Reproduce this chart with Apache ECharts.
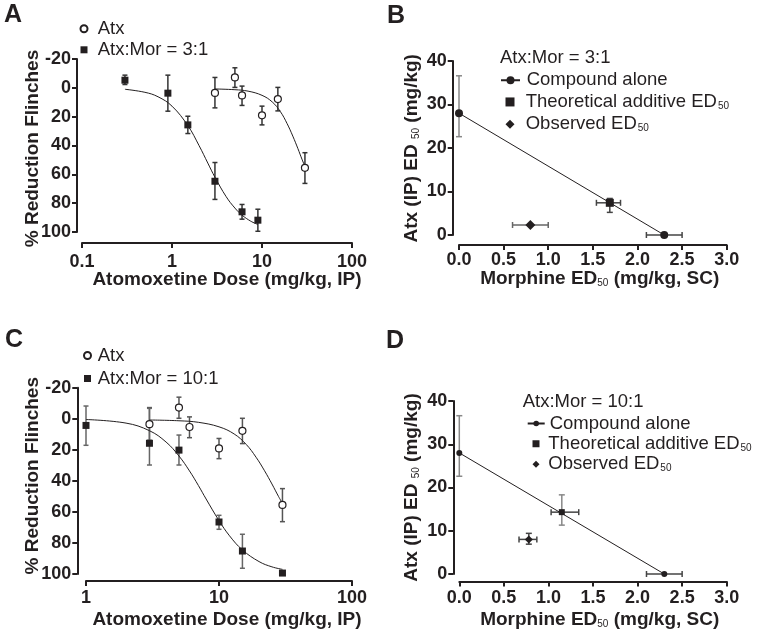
<!DOCTYPE html>
<html><head><meta charset="utf-8">
<script src="https://cdn.jsdelivr.net/npm/echarts@6/dist/echarts.min.js"></script>
<style>html,body{margin:0;padding:0;background:#fff}#c{width:759px;height:635px}</style>
</head><body><div id="c"></div>
<script>
// ================= DATA =================
// Panels A and C: atomoxetine alone (same group in both panels)
const atxDose = [3, 5, 6, 10, 15, 30];
const atxMean = [3.5, -7.2, 5.3, 19.1, 7.8, 55.5];
const atxLow  = [-7.2, -13.9, -1.2, 12.7, -0.3, 45.0];
const atxHigh = [13.9, -0.3, 12.2, 25.7, 16.0, 66.3];
const atxFitDose = [3, 5, 7, 10, 13, 16, 19, 22, 25, 28, 30];
const atxFitVal  = [0.8, 1.3, 2.3, 5.2, 9.8, 16.5, 24.8, 33.5, 42.0, 50.0, 54.5];

// Panel A: Atx:Mor = 3:1
const mix3Dose = [0.3, 0.9, 1.5, 3, 6, 9];
const mix3Mean = [-5.3, 3.7, 25.7, 64.8, 86.0, 91.8];
const mix3Low  = [-8.8, -8.8, 19.7, 51.8, 80.9, 84.2];
const mix3High = [-2.3, 16.2, 31.7, 77.4, 91.1, 99.5];
const mix3FitDose = [0.3, 0.5, 0.7, 1, 1.5, 2, 2.5, 3, 4, 5, 6, 7.5, 9];
const mix3FitVal  = [1.0, 3.1, 6.2, 12.7, 26.2, 40.1, 52.2, 62.0, 75.5, 83.4, 88.3, 92.5, 94.8];

// Panel C: Atx:Mor = 10:1
const mix10Dose = [1, 3, 5, 10, 15, 30];
const mix10Mean = [4.3, 15.8, 20.2, 66.5, 85.2, 99.4];
const mix10Low  = [-8.2, -6.7, 10.5, 62.2, 74.4, null];
const mix10High = [17.1, 29.8, 29.8, 71.2, 96.3, null];
const mix10FitDose = [1, 2, 3, 4, 5, 6, 7, 8, 10, 12, 15, 20, 25, 30];
const mix10FitVal  = [0.5, 2.8, 7.7, 15.0, 24.0, 33.6, 43.0, 51.7, 65.6, 75.4, 84.5, 92.0, 95.4, 97.0];

// Panels B and D: isobolograms (x = morphine ED50, y = atomoxetine ED50)
const aloneMor = [0, 2.3];
const aloneAtx = [28, 0];
const aloneAtxErr = [22.6, 36.6];   // y error of Atx-alone point
const aloneMorErr = [2.1, 2.5];     // x error of morphine-alone point

const theo3Point = [1.69, 7.4];
const theo3XErr  = [1.54, 1.81];
const theo3YErr  = [5.2, 8.4];
const obs3Point  = [0.80, 2.3];
const obs3XErr   = [0.60, 1.00];

const theo10Point = [1.15, 14.3];
const theo10XErr  = [1.03, 1.34];
const theo10YErr  = [11.3, 18.3];
const obs10Point  = [0.78, 8.0];
const obs10XErr   = [0.67, 0.87];
const obs10YErr   = [6.9, 9.4];

// ================= STYLE =================
const FONT = '"Liberation Sans", Arial, Helvetica, sans-serif';
const TXT = '#231f20';

function pairs(xs, ys) { return xs.map((x, i) => [x, ys[i]]); }
function errRows(xs, lo, hi) {
  const r = [];
  xs.forEach((x, i) => { if (lo[i] != null && hi[i] != null) r.push([x, lo[i], hi[i]]); });
  return r;
}

function vErr(gi, rows, color, cap) {
  return {
    type: 'custom', xAxisIndex: gi, yAxisIndex: gi, data: rows, clip: false, silent: true, z: 1,
    encode: {x: 0, y: [1, 2]},
    renderItem: function (params, api) {
      const x = api.value(0);
      const a = api.coord([x, api.value(1)]);
      const b = api.coord([x, api.value(2)]);
      const st = {stroke: color, lineWidth: 1.5};
      return {type: 'group', children: [
        {type: 'line', shape: {x1: a[0], y1: a[1], x2: b[0], y2: b[1]}, style: st},
        {type: 'line', shape: {x1: a[0] - cap, y1: a[1], x2: a[0] + cap, y2: a[1]}, style: st},
        {type: 'line', shape: {x1: b[0] - cap, y1: b[1], x2: b[0] + cap, y2: b[1]}, style: st}
      ]};
    }
  };
}
function hErr(gi, rows, color, cap) {
  return {
    type: 'custom', xAxisIndex: gi, yAxisIndex: gi, data: rows, clip: false, silent: true, z: 1,
    encode: {x: [0, 1], y: 2},
    renderItem: function (params, api) {
      const y = api.value(2);
      const a = api.coord([api.value(0), y]);
      const b = api.coord([api.value(1), y]);
      const st = {stroke: color, lineWidth: 1.5};
      return {type: 'group', children: [
        {type: 'line', shape: {x1: a[0], y1: a[1], x2: b[0], y2: b[1]}, style: st},
        {type: 'line', shape: {x1: a[0], y1: a[1] - cap, x2: a[0], y2: a[1] + cap}, style: st},
        {type: 'line', shape: {x1: b[0], y1: b[1] - cap, x2: b[0], y2: b[1] + cap}, style: st}
      ]};
    }
  };
}
function fitLine(gi, xs, ys) {
  return {type: 'line', xAxisIndex: gi, yAxisIndex: gi, data: pairs(xs, ys), smooth: 0.4,
    showSymbol: false, symbol: 'none', silent: true, z: 2,
    lineStyle: {color: TXT, width: 1}};
}
function scatter(gi, name, data, symbol, size, open) {
  return {type: 'scatter', name: name, xAxisIndex: gi, yAxisIndex: gi, data: data,
    symbol: symbol, symbolSize: size, z: 3, silent: true,
    itemStyle: open ? {color: '#fff', borderColor: TXT, borderWidth: 1.2, opacity: 1} : {color: TXT, opacity: 1}};
}

function axis(extra, margin, fmt) {
  const a = {
    axisLine: {show: true, onZero: false, lineStyle: {color: TXT, width: 2}},
    axisTick: {show: true, length: 5, inside: false, lineStyle: {color: TXT, width: 2}},
    axisLabel: {fontFamily: FONT, fontSize: 18, fontWeight: 'bold', color: TXT, margin: margin},
    splitLine: {show: false},
    minorTick: {show: false},
    minorSplitLine: {show: false}
  };
  if (fmt) a.axisLabel.formatter = fmt;
  return Object.assign(a, extra);
}
const fmtLog = v => String(+(+v).toPrecision(3));
const fmt1 = v => (+v).toFixed(1);

const subRichBold = {s: {fontSize: 10, fontFamily: FONT, fontWeight: 'normal', fill: TXT, color: TXT, padding: [8, 0, 0, 0], verticalAlign: 'bottom'}};
const subRichLeg = {s: {fontSize: 10, fontFamily: FONT, color: TXT, padding: [8, 0, 0, 1], verticalAlign: 'bottom'}};

function txt(x, y, text, size, bold, align, rot, rich) {
  const el = {type: 'text', x: x, y: y, silent: true,
    style: {text: text, fontFamily: FONT, fontSize: size, fontWeight: bold ? 'bold' : 'normal',
      fill: TXT, align: align || 'left', verticalAlign: 'middle'}};
  if (rot) el.rotation = rot;
  if (rich) el.style.rich = rich;
  return el;
}

function legend(left, top, names, iw, ih, gap, padLeft) {
  return {show: true, orient: 'vertical', left: left, top: top, data: names, padding: 0,
    itemWidth: iw, itemHeight: ih, itemGap: gap, selectedMode: false,
    itemStyle: {opacity: 1},
    textStyle: {fontFamily: FONT, fontSize: 18.5, color: TXT, lineHeight: 18.5, padding: [0, 0, 0, padLeft], rich: subRichLeg},
    formatter: n => n.replace('ED50', 'ED{s|50}')};
}

const option = {
  animation: false,
  backgroundColor: '#fff',
  grid: [
    {left: 82, top: 59, width: 270, height: 173, containLabel: false, outerBoundsMode: 'none'},
    {left: 459, top: 61, width: 267.7, height: 174, containLabel: false, outerBoundsMode: 'none'},
    {left: 86, top: 387.7, width: 266, height: 186.3, containLabel: false, outerBoundsMode: 'none'},
    {left: 459.3, top: 401, width: 267.4, height: 173, containLabel: false, outerBoundsMode: 'none'}
  ],
  xAxis: [
    axis({type: 'log', logBase: 10, gridIndex: 0, min: 0.1, max: 100, offset: 11}, 10, fmtLog),
    axis({type: 'value', gridIndex: 1, min: 0, max: 3, interval: 0.5, offset: 10}, 6, fmt1),
    axis({type: 'log', logBase: 10, gridIndex: 2, min: 1, max: 100, offset: 7}, 8, fmtLog),
    axis({type: 'value', gridIndex: 3, min: 0, max: 3, interval: 0.5, offset: 7.5}, 8, fmt1)
  ],
  yAxis: [
    axis({type: 'value', gridIndex: 0, min: -20, max: 100, interval: 20, inverse: true, offset: 5}, 6),
    axis({type: 'value', gridIndex: 1, min: 0, max: 40, interval: 10, offset: 6.3}, 6),
    axis({type: 'value', gridIndex: 2, min: -20, max: 100, interval: 20, inverse: true, offset: 8.7}, 6),
    axis({type: 'value', gridIndex: 3, min: 0, max: 40, interval: 10, offset: 6}, 6)
  ],
  legend: [
    legend(79.5, 19.3, ['Atx', 'Atx:Mor = 3:1'], 7, 7, 2, 5.2),
    legend(83, 346, ['Atx', 'Atx:Mor = 10:1'], 7, 7, 4, 1.7),
    legend(500, 70.75, ['Compound alone'], 19, 10, 3, 1.7),
    Object.assign(legend(505.5, 92.45, ['Theoretical additive ED50', 'Observed ED50'], 9, 9, 3.2, 6.2), {itemStyle: {borderWidth: 0, opacity: 1}}),
    legend(526.7, 414, ['Compound alone'], 17, 7, 2, 0),
    Object.assign(legend(532.5, 434.25, ['Theoretical additive ED50', 'Observed ED50'], 7, 7, 1.5, 3.8), {itemStyle: {borderWidth: 0, opacity: 1}})
  ],
  series: [
    // ---- Panel A ----
    vErr(0, errRows(atxDose, atxLow, atxHigh), '#333', 2.5),
    vErr(0, errRows(mix3Dose, mix3Low, mix3High), '#333', 2.5),
    fitLine(0, atxFitDose, atxFitVal),
    fitLine(0, mix3FitDose, mix3FitVal),
    scatter(0, 'Atx', pairs(atxDose, atxMean), 'circle', 7, true),
    scatter(0, 'Atx:Mor = 3:1', pairs(mix3Dose, mix3Mean), 'rect', 7, false),
    // ---- Panel B ----
    vErr(1, [[aloneMor[0], aloneAtxErr[0], aloneAtxErr[1]]], '#888', 3),
    hErr(1, [[aloneMorErr[0], aloneMorErr[1], aloneAtx[1]]], '#444', 3),
    vErr(1, [[theo3Point[0], theo3YErr[0], theo3YErr[1]]], '#444', 3),
    hErr(1, [[theo3XErr[0], theo3XErr[1], theo3Point[1]]], '#444', 3),
    hErr(1, [[obs3XErr[0], obs3XErr[1], obs3Point[1]]], '#666', 3),
    {type: 'line', name: 'Compound alone', xAxisIndex: 1, yAxisIndex: 1, data: pairs(aloneMor, aloneAtx),
      symbol: 'circle', symbolSize: 8, showSymbol: true, z: 3, silent: true,
      itemStyle: {color: TXT, opacity: 1}, lineStyle: {color: TXT, width: 1}},
    scatter(1, 'Theoretical additive ED50', [theo3Point], 'rect', 8, false),
    scatter(1, 'Observed ED50', [obs3Point], 'diamond', 10, false),
    // ---- Panel C ----
    vErr(2, errRows(atxDose, atxLow, atxHigh), '#555', 2.5),
    vErr(2, errRows(mix10Dose, mix10Low, mix10High), '#666', 2.5),
    fitLine(2, atxFitDose, atxFitVal),
    fitLine(2, mix10FitDose, mix10FitVal),
    scatter(2, 'Atx', pairs(atxDose, atxMean), 'circle', 7, true),
    scatter(2, 'Atx:Mor = 10:1', pairs(mix10Dose, mix10Mean), 'rect', 7, false),
    // ---- Panel D ----
    vErr(3, [[aloneMor[0], aloneAtxErr[0], aloneAtxErr[1]]], '#888', 3),
    hErr(3, [[aloneMorErr[0], aloneMorErr[1], aloneAtx[1]]], '#444', 3),
    vErr(3, [[theo10Point[0], theo10YErr[0], theo10YErr[1]]], '#888', 3),
    hErr(3, [[theo10XErr[0], theo10XErr[1], theo10Point[1]]], '#444', 3),
    vErr(3, [[obs10Point[0], obs10YErr[0], obs10YErr[1]]], '#444', 3),
    hErr(3, [[obs10XErr[0], obs10XErr[1], obs10Point[1]]], '#444', 3),
    {type: 'line', name: 'Compound alone', xAxisIndex: 3, yAxisIndex: 3, data: pairs(aloneMor, aloneAtx),
      symbol: 'circle', symbolSize: 6, showSymbol: true, z: 3, silent: true,
      itemStyle: {color: TXT, opacity: 1}, lineStyle: {color: TXT, width: 1}},
    scatter(3, 'Theoretical additive ED50', [theo10Point], 'rect', 6, false),
    scatter(3, 'Observed ED50', [obs10Point], 'diamond', 8, false)
  ],
  graphic: [
    txt(4, 15.5, 'A', 25, true),
    txt(387, 16.5, 'B', 25, true),
    txt(5, 340.5, 'C', 25, true),
    txt(386, 341.5, 'D', 25, true),
    txt(33, 148.5, '% Reduction Flinches', 19, true, 'center', Math.PI / 2),
    txt(33, 475.7, '% Reduction Flinches', 19, true, 'center', Math.PI / 2),
    txt(227, 280, 'Atomoxetine Dose (mg/kg, IP)', 19, true, 'center'),
    txt(227, 620, 'Atomoxetine Dose (mg/kg, IP)', 19, true, 'center'),
    txt(411.7, 148.3, 'Atx (IP) ED {s|50} (mg/kg)', 19, true, 'center', Math.PI / 2, subRichBold),
    txt(411.7, 487.5, 'Atx (IP) ED {s|50} (mg/kg)', 19, true, 'center', Math.PI / 2, subRichBold),
    txt(599.7, 278.3, 'Morphine ED{s|50} (mg/kg, SC)', 19, true, 'center', 0, subRichBold),
    txt(599.7, 620, 'Morphine ED{s|50} (mg/kg, SC)', 19, true, 'center', 0, subRichBold),
    txt(500, 58.3, 'Atx:Mor = 3:1', 18.5, false),
    txt(522.7, 401.7, 'Atx:Mor = 10:1', 18.5, false)
  ]
};

const chart = echarts.init(document.getElementById('c'), null, {renderer: 'canvas', width: 759, height: 635});
chart.setOption(option);
</script>
</body></html>
